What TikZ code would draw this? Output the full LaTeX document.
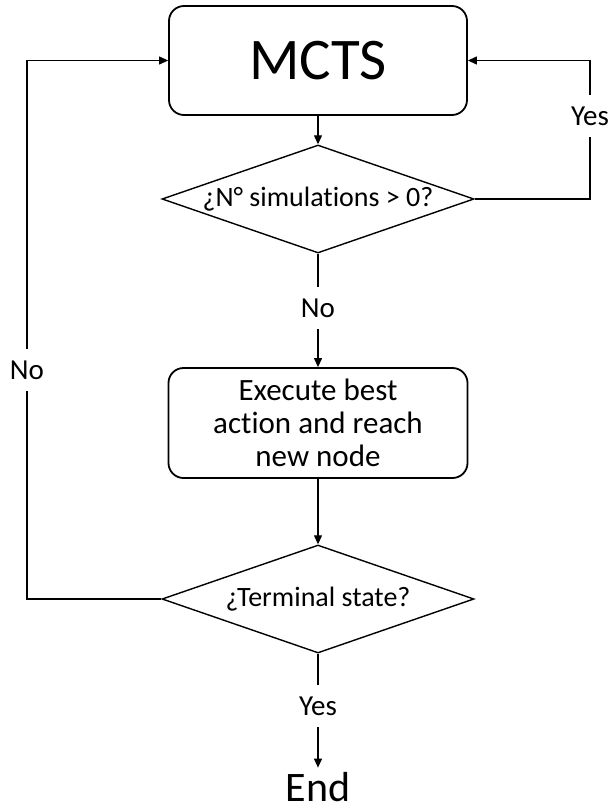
\documentclass[tikz,border=0pt]{standalone}
\usepackage{fontspec}
\setmainfont[Ligatures={NoCommon}]{Carlito}
\usetikzlibrary{shapes.geometric,arrows.meta}
\begin{document}
\begin{tikzpicture}[x=1pt,y=-1pt,
  box/.style={draw, line width=1.8pt, rounded corners=15pt, inner sep=0pt, align=center},
  decision/.style={draw, line width=1.4pt, diamond, shape aspect=2.89, inner sep=0pt,
    minimum width=312pt, minimum height=108pt, font=\fontsize{28}{33}\selectfont},
  lbl/.style={inner sep=0pt, text height=30pt, text depth=12pt, font=\fontsize{29}{34}\selectfont},
  link/.style={line width=1.2pt},
  arr/.style={link, -{Triangle[length=9pt,width=8pt]}},
]
\useasboundingbox (0,0) rectangle (610,808);

% boxes and decisions
\node[box, minimum width=298pt, minimum height=109pt, font=\fontsize{59}{70}\selectfont] (mcts) at (318,60.5) {MCTS};
\node[decision] (d1) at (318,199) {¿N° simulations > 0?};
\node[box, minimum width=299pt, minimum height=110pt, font=\fontsize{31}{33}\selectfont] (exec) at (318,423) {Execute best\\action and reach\\new node};
\node[decision] (d2) at (318,599) {¿Terminal state?};
\node[font=\fontsize{42}{50}\selectfont, inner xsep=0pt, inner ysep=4pt, anchor=base] (end) at (318,801) {End};

% branch labels
\node[lbl] (no1) at (318,308) {No};
\node[lbl] (yes1) at (590,116) {Yes};
\node[lbl] (no2) at (27,370) {No};
\node[lbl] (yes2) at (318,706) {Yes};

% main flow
\draw[arr] (mcts.south) -- (d1.north);
\draw[link] (d1.south) -- (no1.north);
\draw[arr] (no1.south) -- (exec.north);
\draw[arr] (exec.south) -- (d2.north);
\draw[link] (d2.south) -- (yes2.north);
\draw[arr] (yes2.south) -- (end.north);

% loops back to MCTS
\draw[link] (d2.west) -| (no2.south);
\draw[arr] (no2.north) |- (mcts.west);
\draw[link] (d1.east) -| (yes1.south);
\draw[arr] (yes1.north) |- (mcts.east);
\end{tikzpicture}
\end{document}
